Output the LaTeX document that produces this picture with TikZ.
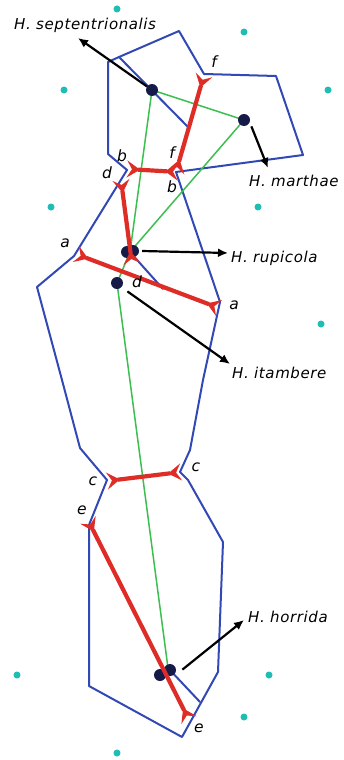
\documentclass[tikz,border=0pt]{standalone}
\usepackage{fontspec}
\setmainfont{DejaVu Sans}[LetterSpace=4]
\usetikzlibrary{arrows.meta}
\definecolor{edgeblue}{RGB}{50,72,180}
\definecolor{cutred}{RGB}{222,45,38}
\definecolor{linkgreen}{RGB}{60,190,80}
\definecolor{dotnavy}{RGB}{22,26,72}
\definecolor{dotcyan}{RGB}{30,190,180}
\tikzset{
  redtip/.tip={Stealth[reversed,length=13pt,width=17pt,inset=5pt]},
  blacktip/.tip={Latex[length=10pt,width=9pt]},
  celledge/.style={draw=edgeblue,line width=2pt,line join=round,line cap=round},
  greenlink/.style={draw=linkgreen,line width=1.5pt},
  redcut/.style={draw=cutred,line width=4.2pt,arrows={redtip-redtip}},
  pointer/.style={draw=black,line width=2.2pt,arrows={-blacktip}},
  speciesdot/.style={circle,fill=dotnavy,inner sep=0pt,minimum size=12pt},
  gridpt/.style={circle,fill=dotcyan,inner sep=0pt,minimum size=7pt},
  spname/.style={font=\fontsize{15}{17}\selectfont\itshape,inner sep=0pt,anchor=base west},
  cutletter/.style={font=\fontsize{15.5}{17}\selectfont\itshape,inner sep=0pt}
}
\begin{document}
\begin{tikzpicture}[x=1pt,y=-1pt]
\useasboundingbox (0,0) rectangle (344,760);
% cyan background points
\foreach \p [count=\i] in {(117,9),(244,32),(64,90),(328,90),(51,207),(258,207),(321,324),(17,675),(269,675),(244,717),(117,753)}
  \node[gridpt] (g\i) at \p {};
% blue cells
\draw[celledge] (108,154) -- (108,62) -- (119,57) -- (179,31) -- (204,74) -- (276,76) -- (303,155) -- (176,172);
\draw[celledge] (108,154) -- (127,170);
\draw[celledge] (119,57) -- (189,128);
\draw[celledge] (127,170) -- (74,256) -- (37,287) -- (62,380) -- (80,448) -- (107,480) -- (89,525) -- (89,686)
  -- (182,737) -- (218,672) -- (223,542) -- (188,480) -- (180,472) -- (190,450) -- (203,380) -- (220,302) -- (176,172);
% species coordinates
\coordinate (sep) at (152,90);
\coordinate (mar) at (244,120);
\coordinate (rup) at (130,252);
\coordinate (ita) at (117,283);
\coordinate (hor) at (168,668);
\draw[celledge] (rup) -- (163,289);
\draw[celledge] (hor) -- (200,702);
% green links
\draw[greenlink] (sep) -- (mar);
\draw[greenlink] (sep) -- (rup);
\draw[greenlink] (mar) -- (rup);
\draw[greenlink] (rup) -- (ita);
\draw[greenlink] (ita) -- (hor);
% species dots
\node[speciesdot] (sepdot) at (sep) {};
\node[speciesdot] (mardot) at (mar) {};
\node[speciesdot] (rupdot1) at (127,252) {};
\node[speciesdot] (rupdot2) at (133,251) {};
\node[speciesdot] (itadot) at (ita) {};
\node[speciesdot] (hordot1) at (160,675) {};
\node[speciesdot] (hordot2) at (170,670) {};
% red cuts
\coordinate (f1) at (204,75); \coordinate (f2) at (176,172);
\coordinate (b1) at (127,169); \coordinate (b2) at (178,172);
\coordinate (d1) at (121,180); \coordinate (d2) at (132,264);
\coordinate (a1) at (76,254); \coordinate (a2) at (219,308);
\coordinate (c1) at (107,481); \coordinate (c2) at (181,472);
\coordinate (e1) at (88,520); \coordinate (e2) at (189,720);
\draw[redcut] (f1) -- (f2);
\draw[redcut] (b1) -- (b2);
\draw[redcut] (d1) -- (d2);
\draw[redcut] (a1) -- (a2);
\draw[redcut] (c1) -- (c2);
\draw[redcut] (e1) -- (e2);
% letters
\node[cutletter] (lf1) at (214,62) {f};
\node[cutletter] (lf2) at (172,153) {f};
\node[cutletter] (lb1) at (122,156) {b};
\node[cutletter] (lb2) at (172,187) {b};
\node[cutletter] (ld1) at (107,173) {d};
\node[cutletter] (ld2) at (137,282) {d};
\node[cutletter] (la1) at (65,243) {a};
\node[cutletter] (la2) at (234,305) {a};
\node[cutletter] (lc1) at (93,481) {c};
\node[cutletter] (lc2) at (196,467) {c};
\node[cutletter] (le1) at (82,510) {e};
\node[cutletter] (le2) at (199,728) {e};
% species names
\node[spname] (nsep) at (14,30) {H. septentrionalis};
\node[spname] (nmar) at (249,186) {H. marthae};
\node[spname] (nrup) at (231,262) {H. rupicola};
\node[spname] (nita) at (232,378) {H. itambere};
\node[spname] (nhor) at (248,622) {H. horrida};
% pointers
\coordinate (psep) at (78,38);
\coordinate (pmar) at (268,168);
\coordinate (prup) at (228,253);
\coordinate (pita) at (230,364);
\coordinate (phor) at (244,620);
\draw[pointer] (sepdot) -- (psep);
\draw[pointer] ([shift={(3pt,-2pt)}]mardot.south east) -- (pmar);
\draw[pointer] ([xshift=3pt]rupdot2.east) -- (prup);
\draw[pointer] ([shift={(6pt,-4pt)}]itadot.south east) -- (pita);
\draw[pointer] ([shift={(8pt,-4pt)}]hordot2.north east) -- (phor);
\end{tikzpicture}
\end{document}
